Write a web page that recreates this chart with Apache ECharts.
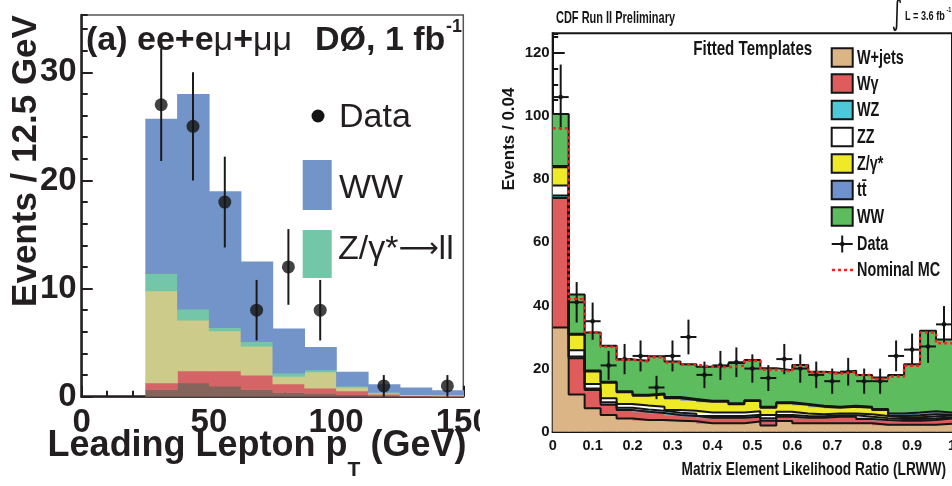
<!DOCTYPE html>
<html>
<head>
<meta charset="utf-8">
<script src="https://cdn.jsdelivr.net/npm/echarts@6/dist/echarts.min.js"></script>
<style>
  html, body { margin: 0; padding: 0; background: #ffffff; }
  #wrap { position: relative; width: 952px; height: 486px; overflow: hidden; }
  #d0 { position: absolute; left: 0; top: 0; width: 480px; height: 486px; }
  #cdf { position: absolute; left: 480px; top: 0; width: 472px; height: 486px; }
</style>
</head>
<body>
<div id="wrap"><div id="d0"></div><div id="cdf"></div></div>
<script>
// ---------- DØ panel: leading lepton pT, 12.5 GeV bins ----------
const ptEdges = [25, 37.5, 50, 62.5, 75, 87.5, 100, 112.5, 125, 137.5, 150];
const d0Diboson = [0.7, 1.3, 1.0, 0.7, 0.4, 0.3, 0.2, 0.1, 0.05, 0.04];
const d0Ttbar   = [0.6, 1.1, 1.4, 1.3, 0.8, 0.5, 0.35, 0.15, 0.05, 0.04];
const d0Wjets   = [8.5, 4.7, 3.7, 2.7, 0.7, 1.5, 0.35, 0.1, 0.08, 0.07];
const d0Zll     = [1.6, 1.0, 0.3, 0.4, 0.3, 0.2, 0.1, 0.05, 0.02, 0.05];
const d0WW      = [14.3, 19.9, 12.6, 7.4, 4.1, 2.1, 1.3, 0.75, 0.65, 0.4];
const d0DataPt  = [31.25, 43.75, 56.25, 68.75, 81.25, 93.75, 118.75, 143.75];
const d0DataN   = [27, 25, 18, 8, 12, 8, 1, 1];
const d0DataErr = [5.2, 5.0, 4.2, 2.8, 3.5, 2.8, 1.0, 1.0];
const d0XTicks  = [0, 50, 100, 150];
const d0YTicks  = [0, 10, 20, 30];

// ---------- CDF panel: LRWW, 0.04 bins ----------
const lrEdges = [0, 0.04, 0.08, 0.12, 0.16, 0.2, 0.24, 0.28, 0.32, 0.36, 0.4, 0.44, 0.48,
                 0.52, 0.56, 0.6, 0.64, 0.68, 0.72, 0.76, 0.8, 0.84, 0.88, 0.92, 0.96, 1.0];
const cdfWjets  = [33.0, 11.8, 7.4, 5.3, 4.2, 3.7, 3.7, 3.5, 3.3, 2.7, 2.7, 2.7, 3.2, 2.0, 3.4, 2.7, 2.7, 2.7, 2.7, 2.7, 2.2, 2.2, 2.2, 2.2, 2.5];
const cdfWgamma = [41.0, 11.5, 5.8, 3.2, 2.7, 2.6, 2.2, 1.8, 1.7, 1.7, 1.7, 1.7, 1.5, 1.5, 1.3, 1.7, 1.7, 2.0, 2.0, 1.3, 1.5, 1.3, 1.3, 1.5, 1.7];
const cdfWZ     = [0.8, 0.5, 0.5, 0.8, 0.7, 0.7, 0.7, 0.7, 0.7, 0.6, 0.6, 0.6, 0.7, 0.8, 0.6, 0.6, 0.5, 0.5, 0.5, 0.7, 0.6, 0.5, 0.5, 0.5, 0.4];
const cdfZZ     = [3.2, 2.0, 1.4, 1.3, 1.2, 1.3, 1.3, 0.9, 0.9, 1.1, 1.1, 1.1, 1.1, 1.0, 1.0, 0.8, 0.6, 0.6, 0.6, 0.8, 0.7, 0.6, 0.6, 0.6, 0.5];
const cdfZgamma = [5.8, 4.9, 4.0, 4.9, 3.7, 3.1, 3.9, 3.7, 3.4, 3.4, 3.4, 2.6, 3.2, 2.3, 2.7, 2.7, 2.4, 1.8, 2.1, 2.1, 1.9, 0.4, 0.6, 0.7, 0.3];
const cdfTtbar  = [0.4, 0.3, 0.3, 0.3, 0.3, 0.3, 0.3, 0.4, 0.4, 0.3, 0.3, 0.3, 0.3, 0.3, 0.3, 0.3, 0.3, 0.3, 0.3, 0.3, 0.3, 0.8, 0.9, 1.0, 0.7];
const cdfWW     = [16.4, 12.5, 12.0, 11.4, 10.1, 10.8, 11.8, 11.2, 11.0, 10.8, 11.0, 12.8, 12.7, 12.2, 10.2, 12.3, 10.8, 10.8, 11.1, 10.1, 10.0, 12.2, 15.3, 25.5, 23.1];
const cdfNominal = [96.1, 42.0, 31.5, 26.9, 22.8, 22.2, 23.6, 21.9, 21.2, 20.6, 20.4, 20.9, 22.5, 19.6, 19.1, 20.9, 18.8, 18.4, 18.9, 18.0, 16.7, 17.5, 20.9, 31.4, 28.0];
const cdfData    = [106, 41, 35, 21, 23, 24, 14, 24, 30, 18, 21, 22, 20, 17, 23, 20, 18, 16, 19, 16, 16, 24, 26, 27, 34];
const cdfDataErr = [10.3, 6.4, 5.9, 4.6, 4.8, 4.9, 3.7, 4.9, 5.5, 4.2, 4.6, 4.7, 4.5, 4.1, 4.8, 4.5, 4.2, 4.0, 4.4, 4.0, 4.0, 4.9, 5.1, 5.2, 5.8];

// ---------- helpers ----------
// cumulative [bottom, top] for each layer of a stack
function stackUp(layers) {
  const n = layers[0].length;
  const base = new Array(n).fill(0);
  return layers.map(vals => {
    const lo = base.slice();
    vals.forEach((v, i) => { base[i] += v; });
    return { lo, hi: base.slice() };
  });
}

// filled histogram layer: one rect per bin between lower and upper edge
function fillSeries(name, edges, lo, hi, color) {
  return {
    type: 'custom', name, silent: true, clip: true,
    data: hi.map((h, i) => [edges[i], edges[i + 1], lo[i], h]),
    encode: { x: [0, 1], y: [2, 3] },
    renderItem: (params, api) => {
      const a = api.coord([api.value(0), api.value(3)]);
      const b = api.coord([api.value(1), api.value(2)]);
      return {
        type: 'rect',
        shape: { x: a[0], y: a[1], width: b[0] - a[0] + 0.7, height: b[1] - a[1] + 0.5 },
        style: { fill: color }
      };
    }
  };
}

// step outline of a histogram (bin left edges, plus the closing right edge)
function stepSeries(name, edges, vals, lineStyle) {
  const pts = vals.map((v, i) => [edges[i], v]);
  pts.push([edges[edges.length - 1], vals[vals.length - 1]]);
  return { type: 'line', name, step: 'end', data: pts, symbol: 'none', silent: true, lineStyle };
}

const HEL = '"Liberation Sans", Arial, sans-serif';
const INK = '#231f20';

// =====================================================================
// DØ chart
// =====================================================================
const d0Colors = ['#84645b', '#d56467', '#cccb8a', '#73c6a7', '#7394c9'];
const d0Stack = stackUp([d0Diboson, d0Ttbar, d0Wjets, d0Zll, d0WW]);
const d0Names = ['WZ/ZZ', 'tt̄', 'W+jets', 'Z/γ*→ll', 'WW'];

const d0Chart = echarts.init(document.getElementById('d0'), null, { renderer: 'canvas' });
d0Chart.setOption({
  animation: false,
  grid: { left: 81.7, top: 15, width: 381.6, height: 381.7, show: true,
          borderColor: '#555', borderWidth: 1.5, backgroundColor: 'transparent',
          outerBoundsMode: 'none' },
  xAxis: {
    type: 'value', min: d0XTicks[0], max: d0XTicks[3], interval: d0XTicks[1] - d0XTicks[0],
    axisLine: { show: true, onZero: false, lineStyle: { color: INK, width: 2.5 } },
    axisTick: { show: true, inside: true, length: 11, lineStyle: { color: INK, width: 2 } },
    minorTick: { show: true, splitNumber: 5, length: 6, lineStyle: { color: INK, width: 2 } },
    axisLabel: { fontFamily: HEL, fontSize: 33, fontWeight: 'bold', color: INK, margin: 10 },
    splitLine: { show: false }
  },
  yAxis: [
    {
      type: 'value', min: d0YTicks[0], max: 35.3, interval: d0YTicks[1] - d0YTicks[0],
      axisLine: { show: true, onZero: false, lineStyle: { color: INK, width: 2.5 } },
      axisTick: { show: true, inside: true, length: 11, lineStyle: { color: INK, width: 2 } },
      axisLabel: { fontFamily: HEL, fontSize: 33, fontWeight: 'bold', color: INK, margin: 5,
                   showMaxLabel: false },
      splitLine: { show: false }
    },
    {
      type: 'value', min: 0, max: 35.3, interval: 2, position: 'left',
      axisLine: { show: false },
      axisTick: { show: true, inside: true, length: 6, lineStyle: { color: INK, width: 2 } },
      axisLabel: { show: false }, splitLine: { show: false }
    }
  ],
  series: [
    ...d0Stack.map((s, k) => fillSeries(d0Names[k], ptEdges, s.lo, s.hi, d0Colors[k])),
    {
      type: 'custom', name: 'Data errors', silent: true,
      data: d0DataPt.map((x, i) => [x, d0DataN[i], d0DataErr[i]]),
      encode: { x: 0, y: 1 },
      renderItem: (params, api) => {
        const x = api.value(0), y = api.value(1), e = api.value(2);
        const t = api.coord([x, y + e]), b = api.coord([x, y - e]);
        return { type: 'line', shape: { x1: t[0], y1: t[1], x2: b[0], y2: b[1] },
                 style: { stroke: '#1a1a1a', lineWidth: 2 } };
      }
    },
    {
      type: 'scatter', name: 'Data', silent: true, symbol: 'circle', symbolSize: 13,
      itemStyle: { color: '#141414' },
      data: d0DataPt.map((x, i) => [x, d0DataN[i]])
    }
  ],
  graphic: { elements: [
    { type: 'text', x: 26, y: 161, rotation: Math.PI / 2,
      style: { text: 'Events / 12.5 GeV', font: 'bold 35px ' + HEL, fill: INK,
               align: 'center', verticalAlign: 'middle' } },
    { type: 'text', x: 257, y: 428,
      style: { text: '{m|Leading Lepton p}{s|T}{m| (GeV)}', fill: INK, align: 'center', verticalAlign: 'top',
               rich: {
                 m: { fontFamily: HEL, fontSize: 36, fontWeight: 'bold', fill: INK, lineHeight: 53, verticalAlign: 'top' },
                 s: { fontFamily: HEL, fontSize: 21, fontWeight: 'bold', fill: INK, lineHeight: 53, verticalAlign: 'bottom' }
               } } },
    { type: 'text', x: 86, y: 41,
      style: { text: '{b|(a) ee+e}{g|μ}{b|+}{g|μμ}', fill: INK, align: 'left', verticalAlign: 'middle',
               rich: {
                 b: { fontFamily: HEL, fontSize: 34, fontWeight: 'bold', fill: INK },
                 g: { fontFamily: HEL, fontSize: 34, fontWeight: 'normal', fill: INK }
               } } },
    { type: 'text', x: 315, y: 41,
      style: { text: 'DØ, 1 fb', font: 'bold 34px ' + HEL, fill: INK, align: 'left', verticalAlign: 'middle' } },
    { type: 'text', x: 446, y: 27,
      style: { text: '-1', font: 'bold 18px ' + HEL, fill: INK, align: 'left', verticalAlign: 'middle' } },
    // legend
    { type: 'circle', shape: { cx: 318, cy: 116, r: 6.5 }, style: { fill: '#141414' } },
    { type: 'text', x: 339, y: 118,
      style: { text: 'Data', font: '34px ' + HEL, fill: INK, align: 'left', verticalAlign: 'middle' } },
    { type: 'rect', shape: { x: 302.7, y: 160, width: 29, height: 50 }, style: { fill: d0Colors[4] } },
    { type: 'text', x: 339, y: 189,
      style: { text: 'WW', font: '34px ' + HEL, fill: INK, align: 'left', verticalAlign: 'middle' } },
    { type: 'rect', shape: { x: 302.7, y: 230, width: 29, height: 48 }, style: { fill: d0Colors[3] } },
    { type: 'text', x: 338, y: 250,
      style: { text: '{a|Z/γ*}{r|⟶}{a|ll}', fill: INK, align: 'left', verticalAlign: 'middle',
               rich: {
                 a: { fontFamily: HEL, fontSize: 34, fill: INK },
                 r: { fontFamily: '"DejaVu Sans", sans-serif', fontSize: 28, fill: INK }
               } } }
  ] }
});

// =====================================================================
// CDF chart
// =====================================================================
const cdfColors = ['#dcb586', '#de5d5c', '#4ec8d9', '#ffffff', '#eeea27', '#6f92cf', '#5cbc5e'];
const cdfNames = ['W+jets', 'Wγ', 'WZ', 'ZZ', 'Z/γ*', 'tt̄', 'WW'];
const cdfStack = stackUp([cdfWjets, cdfWgamma, cdfWZ, cdfZZ, cdfZgamma, cdfTtbar, cdfWW]);
const OUT = '#151515';

const cdfChart = echarts.init(document.getElementById('cdf'), null, { renderer: 'canvas' });
const legendRows = [57.5, 83.5, 110, 137, 163.5, 190, 216.5];
const legendGraphics = [];
cdfNames.forEach((nm, k) => {
  legendGraphics.push({ type: 'rect', shape: { x: 351.7, y: legendRows[k] - 9.2, width: 21, height: 18.4 },
                        style: { fill: cdfColors[k], stroke: OUT, lineWidth: 2 } });
  legendGraphics.push({ type: 'text', x: 377, y: legendRows[k] + 0.5, scaleX: 0.72,
                        style: { text: nm, font: 'bold 20px ' + HEL, fill: OUT, align: 'left', verticalAlign: 'middle' } });
});

cdfChart.setOption({
  animation: false,
  grid: { left: 72.7, top: 33.3, width: 399.3, height: 398.4, show: true,
          borderColor: OUT, borderWidth: 2, backgroundColor: 'transparent',
          outerBoundsMode: 'none' },
  xAxis: {
    type: 'value', min: lrEdges[0], max: lrEdges[lrEdges.length - 1], interval: 0.1,
    axisLine: { show: true, onZero: false, lineStyle: { color: OUT, width: 2 } },
    axisTick: { show: true, inside: true, length: 12, lineStyle: { color: OUT, width: 2 } },
    minorTick: { show: true, splitNumber: 5, length: 6, lineStyle: { color: OUT, width: 2 } },
    axisLabel: { fontFamily: HEL, fontSize: 14.5, fontWeight: 'bold', color: OUT, margin: 7 },
    splitLine: { show: false }
  },
  yAxis: [
    {
      type: 'value', min: 0, max: 126.2, interval: 20,
      axisLine: { show: true, onZero: false, lineStyle: { color: OUT, width: 2 } },
      axisTick: { show: true, inside: true, length: 12, lineStyle: { color: OUT, width: 2 } },
      axisLabel: { fontFamily: HEL, fontSize: 15, fontWeight: 'bold', color: OUT, margin: 3,
                   showMaxLabel: false },
      splitLine: { show: false }
    },
    {
      type: 'value', min: 0, max: 126.2, interval: 5, position: 'left',
      axisLine: { show: false },
      axisTick: { show: true, inside: true, length: 5.5, lineStyle: { color: OUT, width: 2 } },
      axisLabel: { show: false }, splitLine: { show: false }
    }
  ],
  series: [
    ...cdfStack.map((s, k) => fillSeries(cdfNames[k], lrEdges, s.lo, s.hi, cdfColors[k])),
    ...cdfStack.map((s, k) => stepSeries(cdfNames[k] + ' outline', lrEdges, s.hi,
                                         { color: OUT, width: 2 })),
    stepSeries('Nominal MC', lrEdges, cdfNominal, { color: '#ff1f1f', width: 2.5, type: [3, 3] }),
    {
      type: 'custom', name: 'Data', silent: true,
      data: cdfData.map((y, i) => [lrEdges[i], lrEdges[i + 1], y, cdfDataErr[i]]),
      encode: { x: [0, 1], y: 2 },
      renderItem: (params, api) => {
        const x0 = api.value(0), x1 = api.value(1), y = api.value(2), e = api.value(3);
        const xc = (x0 + x1) / 2;
        const l = api.coord([x0, y]), r = api.coord([x1, y]);
        const t = api.coord([xc, y + e]), b = api.coord([xc, y - e]), c = api.coord([xc, y]);
        return { type: 'group', children: [
          { type: 'line', shape: { x1: l[0], y1: l[1], x2: r[0], y2: r[1] }, style: { stroke: OUT, lineWidth: 2 } },
          { type: 'line', shape: { x1: t[0], y1: t[1], x2: b[0], y2: b[1] }, style: { stroke: OUT, lineWidth: 2 } },
          { type: 'circle', shape: { cx: c[0], cy: c[1], r: 2.3 }, style: { fill: OUT } }
        ] };
      }
    }
  ],
  graphic: { elements: [
    { type: 'text', x: 76, y: 18, scaleX: 0.666,
      style: { text: 'CDF Run II Preliminary', font: 'bold 16.5px ' + HEL, fill: OUT, align: 'left', verticalAlign: 'middle' } },
    { type: 'text', x: 417, y: 15, scaleX: 0.6,
      style: { text: '∫', font: '34px "DejaVu Sans", sans-serif', fill: OUT, align: 'center', verticalAlign: 'middle' } },
    { type: 'text', x: 425, y: 17, scaleX: 0.76,
      style: { text: 'L = 3.6 fb', font: 'bold 12px ' + HEL, fill: OUT, align: 'left', verticalAlign: 'middle' } },
    { type: 'text', x: 466.5, y: 10, scaleX: 0.8,
      style: { text: '-1', font: 'bold 7px ' + HEL, fill: OUT, align: 'left', verticalAlign: 'middle' } },
    { type: 'text', x: 29, y: 139, rotation: Math.PI / 2,
      style: { text: 'Events / 0.04', font: 'bold 17px ' + HEL, fill: OUT, align: 'center', verticalAlign: 'middle' } },
    { type: 'text', x: 466, y: 469.5, scaleX: 0.74,
      style: { text: 'Matrix Element Likelihood Ratio (LRWW)', font: 'bold 18.5px ' + HEL, fill: OUT,
               align: 'right', verticalAlign: 'middle' } },
    { type: 'text', x: 272.7, y: 49, scaleX: 0.72,
      style: { text: 'Fitted Templates', font: 'bold 21px ' + HEL, fill: OUT, align: 'center', verticalAlign: 'middle' } },
    ...legendGraphics,
    { type: 'line', shape: { x1: 351.7, y1: 244, x2: 372.7, y2: 244 }, style: { stroke: OUT, lineWidth: 2 } },
    { type: 'line', shape: { x1: 362.2, y1: 235.5, x2: 362.2, y2: 252.5 }, style: { stroke: OUT, lineWidth: 2 } },
    { type: 'circle', shape: { cx: 362.2, cy: 244, r: 2.3 }, style: { fill: OUT } },
    { type: 'text', x: 377, y: 244, scaleX: 0.72,
      style: { text: 'Data', font: 'bold 20px ' + HEL, fill: OUT, align: 'left', verticalAlign: 'middle' } },
    { type: 'line', shape: { x1: 352, y1: 270, x2: 373, y2: 270 },
      style: { stroke: '#ff1f1f', lineWidth: 2.5, lineDash: [3, 3] } },
    { type: 'text', x: 377, y: 270, scaleX: 0.72,
      style: { text: 'Nominal MC', font: 'bold 20px ' + HEL, fill: OUT, align: 'left', verticalAlign: 'middle' } }
  ] }
});
</script>
</body>
</html>
